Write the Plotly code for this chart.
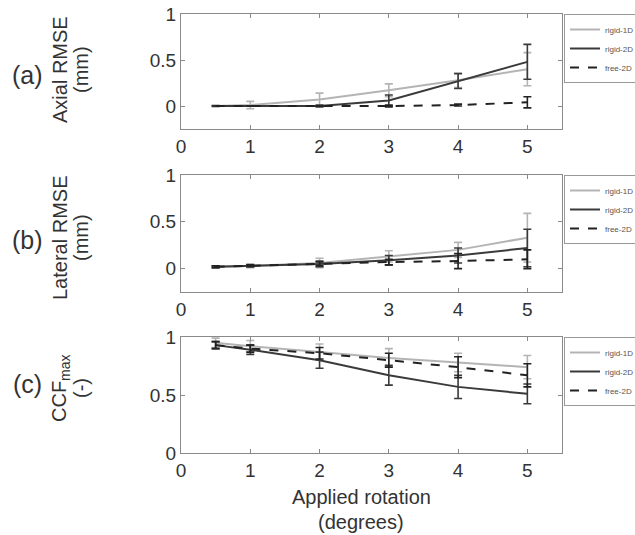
import plotly.graph_objects as go

# ---------------- data ----------------
x_rot = [0.5, 1, 2, 3, 4, 5]
series_names = ["rigid-1D", "rigid-2D", "free-2D"]

axial_rigid1d = [0.0, 0.01, 0.07, 0.17, 0.28, 0.40]
axial_rigid1d_err = [0.01, 0.04, 0.07, 0.07, 0.08, 0.18]
axial_rigid2d = [0.0, 0.0, 0.0, 0.06, 0.27, 0.48]
axial_rigid2d_err = [0.0, 0.0, 0.01, 0.06, 0.08, 0.19]
axial_free2d = [0.0, 0.0, 0.0, 0.0, 0.01, 0.04]
axial_free2d_err = [0.0, 0.0, 0.0, 0.01, 0.01, 0.06]

lateral_rigid1d = [0.02, 0.03, 0.06, 0.13, 0.20, 0.33]
lateral_rigid1d_err = [0.01, 0.02, 0.05, 0.06, 0.08, 0.26]
lateral_rigid2d = [0.02, 0.03, 0.05, 0.09, 0.14, 0.22]
lateral_rigid2d_err = [0.01, 0.01, 0.03, 0.05, 0.08, 0.20]
lateral_free2d = [0.02, 0.03, 0.05, 0.07, 0.08, 0.10]
lateral_free2d_err = [0.01, 0.01, 0.02, 0.03, 0.08, 0.10]

ccf_rigid1d = [0.95, 0.92, 0.87, 0.82, 0.78, 0.74]
ccf_rigid1d_err = [0.04, 0.05, 0.07, 0.08, 0.08, 0.10]
ccf_rigid2d = [0.93, 0.89, 0.80, 0.67, 0.57, 0.51]
ccf_rigid2d_err = [0.03, 0.04, 0.07, 0.085, 0.10, 0.085]
ccf_free2d = [0.93, 0.90, 0.86, 0.80, 0.74, 0.67]
ccf_free2d_err = [0.03, 0.03, 0.05, 0.06, 0.09, 0.10]

panel_labels = ["(a)", "(b)", "(c)"]
y_titles_1 = ["Axial RMSE", "Lateral RMSE", "CCF<sub>max</sub>"]
y_titles_2 = ["(mm)", "(mm)", "(-)"]
x_title_1 = "Applied rotation"
x_title_2 = "(degrees)"
x_ticks = [0, 1, 2, 3, 4, 5]
y_ticks = [0, 0.5, 1]
y_tick_text = ["0", "0.5", "1"]

panels = [
    (axial_rigid1d, axial_rigid1d_err, axial_rigid2d, axial_rigid2d_err, axial_free2d, axial_free2d_err),
    (lateral_rigid1d, lateral_rigid1d_err, lateral_rigid2d, lateral_rigid2d_err, lateral_free2d, lateral_free2d_err),
    (ccf_rigid1d, ccf_rigid1d_err, ccf_rigid2d, ccf_rigid2d_err, ccf_free2d, ccf_free2d_err),
]
y_ranges = [[-0.25, 1], [-0.25, 1], [0, 1]]

# ---------------- layout geometry ----------------
W, H = 635, 535
x_dom = [181 / W, 562 / W]
boxes = [(14, 129), (175, 292), (337, 453)]  # top, bottom in px
y_doms = [[1 - b / H, 1 - t / H] for t, b in boxes]
label_y = [75, 240, 384]
title_y = [70, 238, 388]

FONT = "Liberation Sans, Arial, sans-serif"
TXT = "#333333"
AX = "#8a8a8a"
LIGHT = "#b4b4b4"
DARK = "#3a3a3a"

fig = go.Figure()
styles = [
    dict(color=LIGHT, dash="solid", width=2),
    dict(color=DARK, dash="solid", width=2),
    dict(color="#222222", dash="dash", width=2),
]

for i, p in enumerate(panels):
    xa = "x" if i == 0 else f"x{i+1}"
    ya = "y" if i == 0 else f"y{i+1}"
    lg = "legend" if i == 0 else f"legend{i+1}"
    for k in range(3):
        vals, errs = p[2 * k], p[2 * k + 1]
        st = styles[k]
        fig.add_trace(go.Scatter(
            x=x_rot, y=vals, mode="lines", name=series_names[k],
            line=dict(color=st["color"], dash=st["dash"], width=st["width"]),
            error_y=dict(type="data", array=errs, visible=True,
                         color=st["color"], thickness=1.6, width=4),
            xaxis=xa, yaxis=ya, legend=lg, showlegend=True,
        ))

layout = dict(
    width=W, height=H, margin=dict(l=0, r=0, t=0, b=0, autoexpand=False),
    paper_bgcolor="white", plot_bgcolor="white",
    font=dict(family=FONT, size=19, color=TXT),
)
for i in range(3):
    sfx = "" if i == 0 else str(i + 1)
    layout[f"xaxis{sfx}"] = dict(
        domain=x_dom, range=[0, 5.5], anchor=f"y{sfx}",
        tickmode="array", tickvals=x_ticks, ticks="inside", ticklen=4,
        tickcolor=AX, showline=True, linecolor=AX, linewidth=1.2,
        mirror="ticks", showgrid=False, zeroline=False, automargin=False,
        tickfont=dict(size=19, color=TXT), ticklabelstandoff=0,
    )
    layout[f"yaxis{sfx}"] = dict(
        domain=y_doms[i], range=y_ranges[i], anchor=f"x{sfx}",
        tickmode="array", tickvals=y_ticks, ticktext=y_tick_text,
        ticks="inside", ticklen=4, tickcolor=AX, showline=True,
        linecolor=AX, linewidth=1.2, mirror="ticks", showgrid=False,
        zeroline=False, automargin=False, ticklabelstandoff=0,
        tickfont=dict(size=19, color=TXT),
    )
    lgname = "legend" if i == 0 else f"legend{i+1}"
    layout[lgname] = dict(
        x=564 / W, y=1 - boxes[i][0] / H, xanchor="left", yanchor="top",
        bgcolor="white", bordercolor="#999999", borderwidth=1,
        font=dict(size=8, color="#555555", family=FONT),
        itemwidth=30, tracegroupgap=0,
    )

fig.update_layout(**layout)

ann = []
for i in range(3):
    ann.append(dict(text=panel_labels[i], x=27 / W, y=1 - label_y[i] / H, xref="paper", yref="paper",
                    showarrow=False, font=dict(size=25, color=TXT), xanchor="center", yanchor="middle"))
    ann.append(dict(text=y_titles_1[i], x=60 / W, y=1 - title_y[i] / H, xref="paper", yref="paper",
                    showarrow=False, textangle=-90, font=dict(size=20, color=TXT),
                    xanchor="center", yanchor="middle"))
    ann.append(dict(text=y_titles_2[i], x=81 / W, y=1 - title_y[i] / H, xref="paper", yref="paper",
                    showarrow=False, textangle=-90, font=dict(size=20, color=TXT),
                    xanchor="center", yanchor="middle"))
ann.append(dict(text=x_title_1, x=361 / W, y=1 - 497 / H, xref="paper", yref="paper",
                showarrow=False, font=dict(size=20, color=TXT), xanchor="center", yanchor="middle"))
ann.append(dict(text=x_title_2, x=361 / W, y=1 - 522 / H, xref="paper", yref="paper",
                showarrow=False, font=dict(size=20, color=TXT), xanchor="center", yanchor="middle"))
fig.update_layout(annotations=ann)

fig.write_html("out.html")
